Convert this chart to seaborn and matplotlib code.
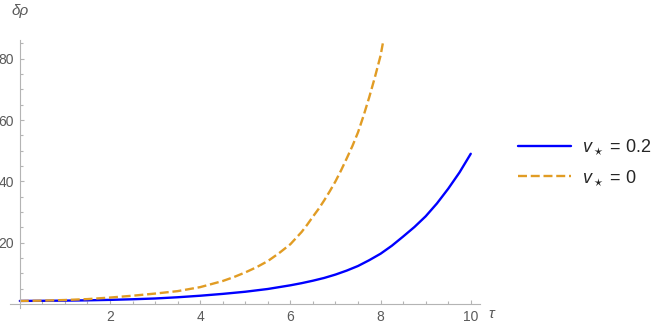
import pandas as pd
import numpy as np
import matplotlib.pyplot as plt
import seaborn as sns
from matplotlib.ticker import FixedLocator

# values
tau_v02 = [0.0, 0.5, 1.0, 1.5, 2.0, 2.5, 3.0, 3.5, 4.0, 4.5, 5.0, 5.5, 5.75,
           6.0, 6.25, 6.5, 6.75, 7.0, 7.25, 7.5, 7.75, 8.0, 8.25, 8.5, 8.75,
           9.0, 9.25, 9.5, 9.75, 10.0]
rho_v02 = [1.0, 1.05, 1.1, 1.2, 1.35, 1.55, 1.8, 2.2, 2.7, 3.3, 4.0, 4.9, 5.5,
           6.1, 6.8, 7.6, 8.5, 9.6, 10.9, 12.4, 14.3, 16.4, 19.0, 22.0, 25.1,
           28.6, 32.8, 37.6, 42.9, 49.0]

tau_v0 = [0.0, 0.5, 1.0, 1.5, 2.0, 2.5, 3.0, 3.5, 4.0, 4.5, 4.75, 5.0, 5.25,
          5.5, 5.75, 6.0, 6.25, 6.375, 6.5, 6.625, 6.75, 6.875, 7.0, 7.125,
          7.25, 7.375, 7.5, 7.625, 7.75, 7.875, 8.0, 8.05]
rho_v0 = [1.0, 1.1, 1.3, 1.6, 2.1, 2.7, 3.4, 4.2, 5.5, 7.5, 8.8, 10.3, 12.0,
          14.0, 16.6, 19.5, 23.5, 25.9, 28.5, 31.0, 33.8, 36.8, 40.0, 43.6,
          47.5, 51.5, 56.0, 61.5, 67.5, 74.0, 81.0, 85.0]

labels = [r'$v_\star$ = 0.2', r'$v_\star$ = 0']
colors = ['#0000ff', '#e19c24']

df = pd.concat([
    pd.DataFrame({'tau': tau_v02, 'rho': rho_v02, 'series': labels[0]}),
    pd.DataFrame({'tau': tau_v0, 'rho': rho_v0, 'series': labels[1]}),
])

sns.set_style('white')
plt.rcParams['font.family'] = ['Liberation Sans', 'DejaVu Sans']
plt.rcParams['mathtext.fontset'] = 'custom'
plt.rcParams['mathtext.it'] = 'Liberation Sans:italic'
plt.rcParams['mathtext.rm'] = 'Liberation Sans'

axis_grey = '#b4b4b4'
text_grey = '#5a5a5a'

fig = plt.figure(figsize=(6.54, 3.28), dpi=100)
ax = fig.add_axes([0.0151, 0.061, 0.7185, 0.817])

sns.lineplot(data=df, x='tau', y='rho', hue='series', style='series',
             palette=dict(zip(labels, colors)),
             dashes={labels[0]: '', labels[1]: (3.8, 1.6)},
             linewidth=1.7, sort=False, estimator=None, legend=False, ax=ax,
             solid_joinstyle='round')

ax.set_xlim(-0.22, 10.2)
ax.set_ylim(-1.3, 86.1)

for side in ['top', 'right']:
    ax.spines[side].set_visible(False)
ax.spines['left'].set_position(('data', 0))
ax.spines['bottom'].set_position(('data', 0))
for side in ['left', 'bottom']:
    ax.spines[side].set_color(axis_grey)
    ax.spines[side].set_linewidth(0.8)

ax.xaxis.set_major_locator(FixedLocator([2, 4, 6, 8, 10]))
ax.xaxis.set_minor_locator(FixedLocator([x / 2 for x in range(1, 21) if x % 4 != 0]))
ax.yaxis.set_major_locator(FixedLocator([20, 40, 60, 80]))
ax.yaxis.set_minor_locator(FixedLocator([y for y in range(5, 90, 5) if y % 20 != 0]))

ax.tick_params(which='both', direction='in', color=axis_grey, width=0.8,
               labelcolor=text_grey, labelsize=10, pad=4,
               bottom=True, left=True)
ax.tick_params(which='major', length=3.2)
ax.tick_params(which='minor', length=2)
ax.set_xlabel('')
ax.set_ylabel('')

fig.text(20 / 654, 1 - 11 / 328, 'δρ', fontsize=11, fontstyle='italic',
         color=text_grey, ha='center', va='center')
fig.text(491 / 654, 1 - 314 / 328, 'τ', fontsize=11, fontstyle='italic',
         color=text_grey, ha='center', va='center')

lines = ax.get_lines()[:2]
ax.legend(lines, labels, loc='center left',
          bbox_to_anchor=(518 / 654, 1 - 162.5 / 328),
          bbox_transform=fig.transFigure, frameon=False, borderpad=0,
          borderaxespad=0, handlelength=2.95, handletextpad=0.6,
          labelspacing=0.6, fontsize=13)

fig.savefig('out.png', dpi=100)
